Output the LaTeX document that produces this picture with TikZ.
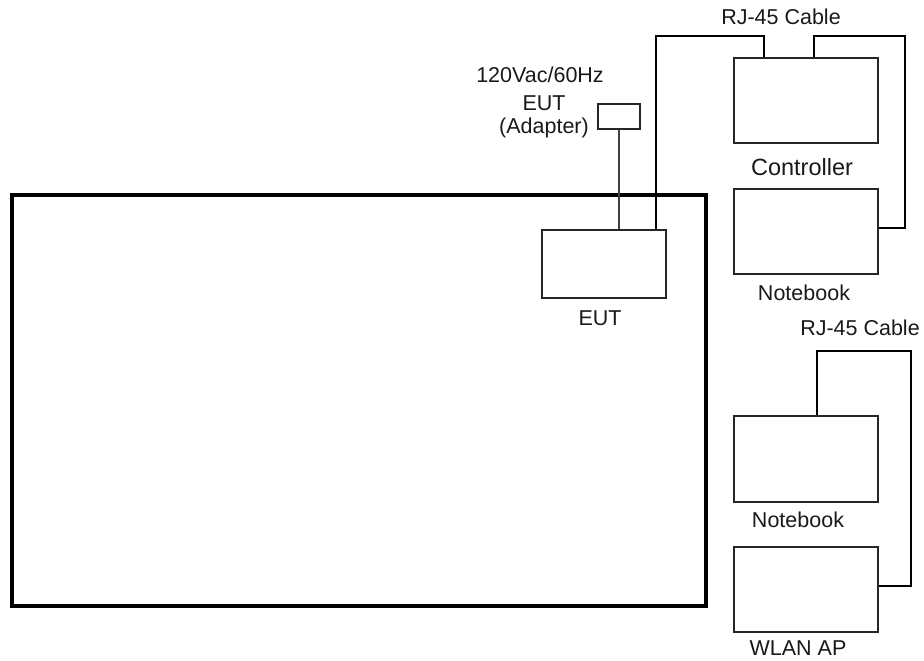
\documentclass[tikz,border=0pt]{standalone}
\usepackage{fontspec}
\setmainfont{Liberation Sans}
\usetikzlibrary{calc}
\begin{document}
\begin{tikzpicture}[x=1pt,y=-1pt,
  box/.style={draw=black!85,line width=1.6pt,rectangle,inner sep=0pt},
  cable/.style={draw=black,line width=1.4pt},
  lbl/.style={font=\fontsize{21.5}{24}\selectfont,text=black!90,inner sep=0pt},
  lblw/.style={font=\fontsize{23.5}{26}\selectfont,text=black!90,inner sep=0pt}]
\useasboundingbox (0,0) rectangle (924,661);
\node[draw=black,line width=4pt,rectangle,inner sep=0pt,minimum width=694pt,minimum height=411pt] (room) at (359,400.5) {};
\node[box,minimum width=124pt,minimum height=68pt] (eut) at (604,264) {};
\node[box,minimum width=42pt,minimum height=25pt] (adapter) at (619,116.5) {};
\node[box,minimum width=144pt,minimum height=85pt] (ctrl) at (806,100.5) {};
\node[box,minimum width=144pt,minimum height=85pt] (nb1) at (806,231.5) {};
\node[box,minimum width=144pt,minimum height=86pt] (nb2) at (806,459) {};
\node[box,minimum width=144pt,minimum height=85pt] (wlan) at (806,589.5) {};
\coordinate (k1) at (656,36);
\coordinate (k2) at (905,36);
\coordinate (k3) at (911,351);
\draw[cable,draw=black!75] (adapter.south) -- (adapter.south |- eut.north);
\draw[cable] (k1 |- eut.north) -- (k1) -| ([xshift=-42pt]ctrl.north);
\draw[cable] ([xshift=8pt]ctrl.north) |- (k2) |- ([yshift=3.5pt]nb1.east);
\draw[cable] ([xshift=11pt]nb2.north) |- (k3) |- ([yshift=3.5pt]wlan.east);
\node[lbl] (t1) at (781,17) {RJ-45 Cable};
\node[lbl] (t2) at (540,75) {120Vac/60Hz};
\node[lbl] (t3) at (544,103) {EUT};
\node[lbl] (t4) at (544,128) {(Adapter)};
\node[lblw] (t5) at (802,167) {Controller};
\node[lbl] (t6) at (804,293) {Notebook};
\node[lbl] (t7) at (600,318) {EUT};
\node[lbl] (t8) at (860,328) {RJ-45 Cable};
\node[lbl] (t9) at (798,520) {Notebook};
\node[lbl] (t10) at (798,648) {WLAN AP};
\end{tikzpicture}
\end{document}
